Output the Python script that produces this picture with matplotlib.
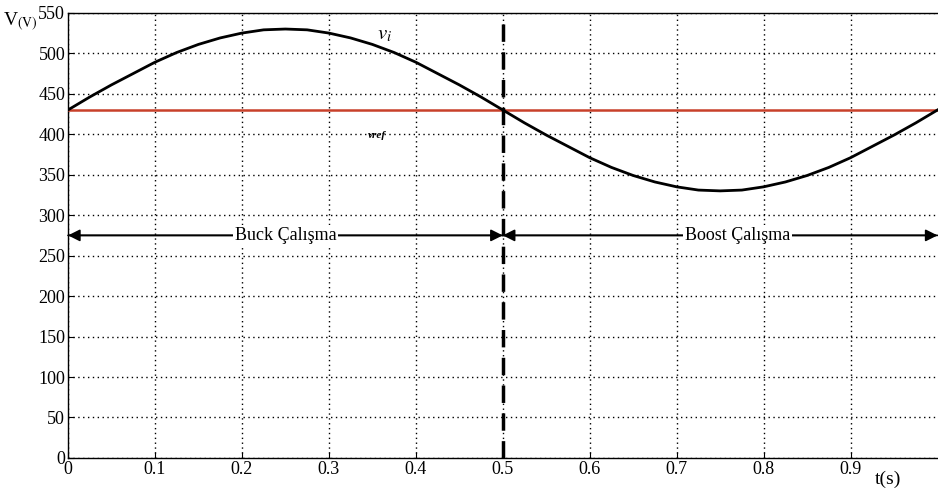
import matplotlib.pyplot as plt

# values
t = [i * 0.025 for i in range(41)]
v_i = [430, 446, 461, 475, 489, 501, 511, 519, 525, 529, 530, 529, 525, 519, 511, 501,
       489, 475, 461, 446, 430, 414, 399, 385, 371, 359, 349, 341, 335, 331, 330, 331,
       335, 341, 349, 359, 371, 385, 399, 414, 430]
v_ref = 430
t_switch = 0.5
arrow_level = 275
x_ticks = [0, 0.1, 0.2, 0.3, 0.4, 0.5, 0.6, 0.7, 0.8, 0.9]
y_ticks = [0, 50, 100, 150, 200, 250, 300, 350, 400, 450, 500, 550]

plt.rcParams['font.family'] = ['Liberation Serif', 'DejaVu Serif']
plt.rcParams['mathtext.fontset'] = 'stix'

fig = plt.figure(figsize=(9.38, 4.94), dpi=100)
ax = fig.add_axes([0.0725, 0.073, 0.927, 0.901])

ax.plot(t, v_i, color="black", lw=2, zorder=4)
ax.axhline(v_ref, color="#c8402a", lw=1.8, zorder=3)
ax.axvline(t_switch, color="black", lw=2.5, ls=(0, (5, 3)), zorder=5)

ax.set_xlim(0, 1.0)
ax.set_ylim(0, 550)
ax.set_xticks(x_ticks)
ax.set_xticklabels([str(x) if x else "0" for x in x_ticks])
ax.set_yticks(y_ticks)
ax.grid(True, color="black", ls=(0, (1, 2.5)), lw=1)
ax.tick_params(direction="in", length=4, labelsize=13, colors="black", pad=2)
for s in ax.spines.values():
    s.set_color("black")
    s.set_linewidth(1)
ax.spines["right"].set_visible(False)

# arrows
arr = dict(arrowstyle="-|>", color="black", lw=1.2, mutation_scale=18, shrinkA=0, shrinkB=0)
ax.annotate("", xy=(0, arrow_level), xytext=(t_switch, arrow_level), arrowprops=arr, zorder=6)
ax.annotate("", xy=(t_switch, arrow_level), xytext=(0, arrow_level), arrowprops=arr, zorder=6)
ax.annotate("", xy=(1.0, arrow_level), xytext=(t_switch, arrow_level), arrowprops=arr, zorder=6)
ax.annotate("", xy=(t_switch, arrow_level), xytext=(1.0, arrow_level), arrowprops=arr, zorder=6)

box = dict(facecolor="white", edgecolor="none", pad=1)
ax.text(0.25, arrow_level, "Buck Çalışma", ha="center", va="center", fontsize=13, bbox=box, zorder=7)
ax.text(0.77, arrow_level, "Boost Çalışma", ha="center", va="center", fontsize=13, bbox=box, zorder=7)

ax.text(0.355, 523, r"$v_i$", fontsize=15, ha="left", va="center", zorder=7)
ax.text(0.345, 398, "vref", fontsize=8, style="italic", weight="bold", ha="left", va="center", zorder=7)

fig.text(0.003, 0.955, r"V$_{\mathrm{(V)}}$", fontsize=14, ha="left", va="center")
fig.text(0.947, 0.03, "t(s)", fontsize=14, ha="center", va="center")

fig.savefig("out.png", dpi=100)
